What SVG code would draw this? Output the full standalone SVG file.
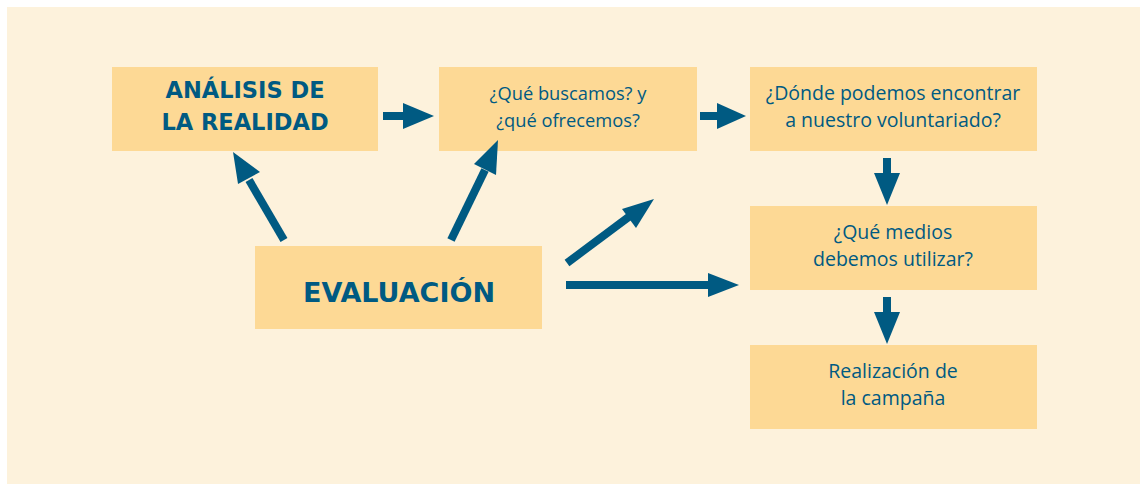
<svg xmlns="http://www.w3.org/2000/svg" width="1140" height="484" viewBox="0 0 1140 484">
<defs>
<style>
.box{fill:#FDD995}
.b{font-family:"DejaVu Sans","Liberation Sans",sans-serif;font-weight:bold;fill:#005A82;text-anchor:middle}
.r{font-family:"Open Sans","Liberation Sans",sans-serif;fill:#005A82;text-anchor:middle;font-size:19.5px}
.r.s{font-size:18.3px}
.ln{stroke:#005A82;stroke-width:8;fill:none}
.hd{fill:#005A82}
</style>
</defs>
<rect x="0" y="0" width="1140" height="484" fill="#FFFFFF"/>
<rect x="7" y="7" width="1133" height="477" fill="#FDF2DC"/>
<g id="analisis"><rect class="box" x="112" y="67" width="266" height="84"/>
<text class="b" x="245" y="98" font-size="22.5">ANÁLISIS DE</text>
<text class="b" x="245" y="130" font-size="22.5">LA REALIDAD</text></g>
<g id="buscamos"><rect class="box" x="439" y="67" width="258" height="84"/>
<text class="r s" x="568" y="100">¿Qué buscamos? y</text>
<text class="r s" x="568" y="127">¿qué ofrecemos?</text></g>
<g id="donde"><rect class="box" x="750" y="67" width="287" height="84"/>
<text class="r" x="893" y="100">¿Dónde podemos encontrar</text>
<text class="r" x="893" y="127">a nuestro voluntariado?</text></g>
<g id="medios"><rect class="box" x="750" y="206" width="287" height="84"/>
<text class="r" x="893" y="239">¿Qué medios</text>
<text class="r" x="893" y="266">debemos utilizar?</text></g>
<g id="realizacion"><rect class="box" x="750" y="345" width="287" height="84"/>
<text class="r" x="893" y="378">Realización de</text>
<text class="r" x="893" y="405">la campaña</text></g>
<g id="evaluacion"><rect class="box" x="255" y="246" width="287" height="83"/>
<text class="b" x="399" y="302" font-size="27">EVALUACIÓN</text></g>
<g id="connectors">
<line class="ln" x1="383" y1="116" x2="405" y2="116"/><polygon class="hd" points="403,103 434,116 403,129"/>
<line class="ln" x1="700" y1="116" x2="719" y2="116"/><polygon class="hd" points="717,103 746,116 717,129"/>
<line class="ln" x1="887" y1="158" x2="887" y2="175"/><polygon class="hd" points="874,173 887,205 900,173"/>
<line class="ln" x1="887" y1="297" x2="887" y2="314"/><polygon class="hd" points="874,312 887,344 900,312"/>
<line class="ln" x1="566" y1="285" x2="710" y2="285"/><polygon class="hd" points="708,273 739,285 708,297"/>
<line class="ln" x1="567" y1="263" x2="630" y2="216"/><polygon class="hd" points="654,199 636,228 622,209"/>
<line class="ln" x1="451" y1="240" x2="485" y2="170"/><polygon class="hd" points="498,140 496,175 474,164"/>
<line class="ln" x1="284" y1="240" x2="249" y2="180"/><polygon class="hd" points="233,152 260,172 238,184"/>
</g>
</svg>
